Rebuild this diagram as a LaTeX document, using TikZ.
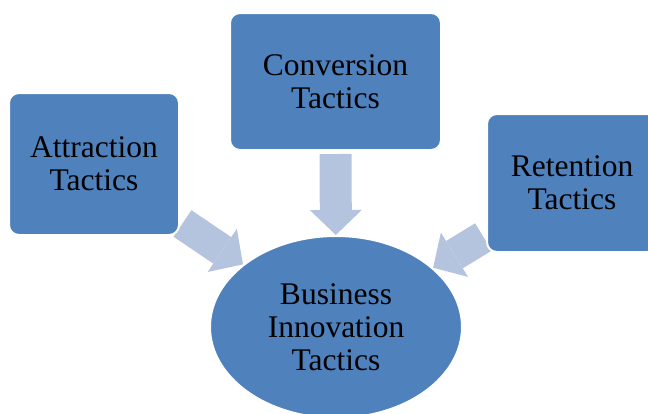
\documentclass[tikz,border=0pt]{standalone}
\usepackage{fontspec}
\setmainfont{Liberation Serif}
\usepackage{tikz}
\usetikzlibrary{arrows.meta,positioning,calc,shapes.geometric,backgrounds}
\definecolor{boxblue}{RGB}{79,129,189}
\definecolor{arrowblue}{RGB}{180,195,222}

\begin{document}
\begin{tikzpicture}[x=1pt, y=-1pt,
  tactic/.style={rectangle, rounded corners=10pt, fill=boxblue, draw=white, line width=2pt, align=center, font=\fontsize{31.5}{33}\selectfont},
  flow/.style={color=arrowblue, line width=32pt, shorten <=3pt, -{Triangle[width=52pt, length=25pt, line width=0pt]}}]
  \useasboundingbox (0,0) rectangle (648,413);

  \node (A) [tactic, minimum width = 170pt, minimum height = 142pt] at (94,164) {Attraction\\Tactics};
  \node (C) [tactic, minimum width = 211pt, minimum height = 137pt] at (335.5,81.5) {Conversion\\Tactics};
  \node (R) [tactic, minimum width = 170pt, minimum height = 138pt] at (572,183) {Retention\\Tactics};
  \node (B) [tactic, ellipse, rounded corners=0pt, minimum width = 252pt, minimum height = 182pt] at (336,327) {Business\\Innovation\\Tactics};

  \begin{pgfonlayer}{background}
  \path [flow]
  (A) edge (B)
  (C) edge (B)
  (R) edge (B);
  \end{pgfonlayer}

\end{tikzpicture}
\end{document}
